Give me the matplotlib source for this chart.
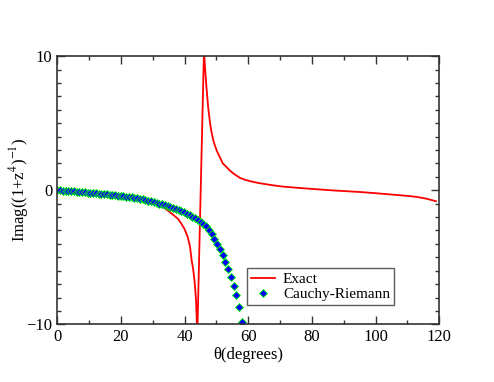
import numpy as np
import matplotlib.pyplot as plt
from matplotlib import rc
from matplotlib.ticker import MultipleLocator

rc('font', family='Liberation Serif')
rc('mathtext', fontset='stix')

# Exact curve (theta in degrees)
theta_exact = [0, 5, 10, 15, 20, 25, 28, 30, 32, 34, 36, 38, 39, 40, 41,
               41.7, 42.2, 42.7, 43.1, 43.35, 43.6, 44.0,
               46.1, 46.4, 46.9, 47.4, 48.0, 48.5, 49.0, 49.5, 50.1, 51.0,
               52.0, 53.2, 54.3, 55.5, 57.4, 59, 60.5, 63, 65, 68, 71, 75,
               80, 87, 90, 95, 100, 105, 110, 113, 116, 119]
imag_exact = [0.0, -0.09, -0.19, -0.31, -0.45, -0.63, -0.78, -0.92, -1.08,
              -1.38, -1.75, -2.15, -2.5, -2.9, -3.5, -4.2, -5.2, -5.9, -6.7,
              -7.4, -8.2, -10.8,
              10.5, 9.2, 7.6, 6.2, 5.0, 4.3, 3.75, 3.35, 2.95, 2.5,
              2.0, 1.72, 1.45, 1.22, 0.92, 0.78, 0.68, 0.55, 0.47, 0.36,
              0.27, 0.19, 0.1, -0.02, -0.06, -0.13, -0.22, -0.32, -0.42,
              -0.5, -0.63, -0.82]

# Cauchy-Riemann points, one every ~0.866 degrees
theta_cr = np.arange(68) * 0.866
imag_cr = [0.00, -0.01, -0.02, -0.04, -0.05, -0.07, -0.08, -0.10, -0.12, -0.13,
           -0.15, -0.17, -0.19, -0.21, -0.23, -0.25, -0.27, -0.29, -0.31, -0.33,
           -0.36, -0.38, -0.40, -0.43, -0.45, -0.48, -0.51, -0.54, -0.58, -0.61,
           -0.65, -0.69, -0.73, -0.78, -0.83, -0.88, -0.93, -0.99, -1.05, -1.11,
           -1.18, -1.25, -1.32, -1.40, -1.48, -1.56, -1.65, -1.75, -1.85, -1.96,
           -2.08, -2.20, -2.34, -2.50, -2.70, -2.95, -3.25, -3.60, -3.98, -4.40,
           -4.85, -5.35, -5.90, -6.50, -7.15, -7.85, -8.70, -9.80]

fig = plt.figure(figsize=(4.94, 3.82), dpi=100)
ax = fig.add_axes([0.116, 0.151, 0.773, 0.702])

ax.plot(theta_exact, imag_exact, color='#ff0000', lw=1.3, label='Exact')
ax.plot(theta_cr, imag_cr, ls='none', marker='D', ms=4.3, mfc='#0000ff',
        mec='#00ff00', mew=0.6, label='Cauchy-Riemann')

ax.set_xlim(0, 120)
ax.set_ylim(-10, 10)
ax.xaxis.set_major_locator(MultipleLocator(20))
ax.xaxis.set_minor_locator(MultipleLocator(10))
ax.yaxis.set_major_locator(MultipleLocator(10))
ax.yaxis.set_minor_locator(MultipleLocator(1))
ax.tick_params(which='both', direction='in', top=True, right=True,
               labelsize=12, color='#333333', width=1)
ax.tick_params(which='major', length=6)
ax.tick_params(which='minor', length=3)
for s in ax.spines.values():
    s.set_linewidth(1.2)
    s.set_color('#333333')

ax.set_xlabel(r'θ(degrees)', fontsize=12, labelpad=1)
ax.set_ylabel(r'Imag((1+z$^{4}$)$^{-1}$)', fontsize=12)
ax.yaxis.set_label_coords(-0.068, 0.5)

leg = ax.legend(loc='lower left', bbox_to_anchor=(0.497, 0.072), fontsize=11,
                frameon=True, fancybox=False, edgecolor='#333333',
                borderpad=0.25, handlelength=1.6, handletextpad=0.5,
                labelspacing=0.1, borderaxespad=0)
leg.get_frame().set_linewidth(1.0)

plt.savefig('out.png', dpi=100)
